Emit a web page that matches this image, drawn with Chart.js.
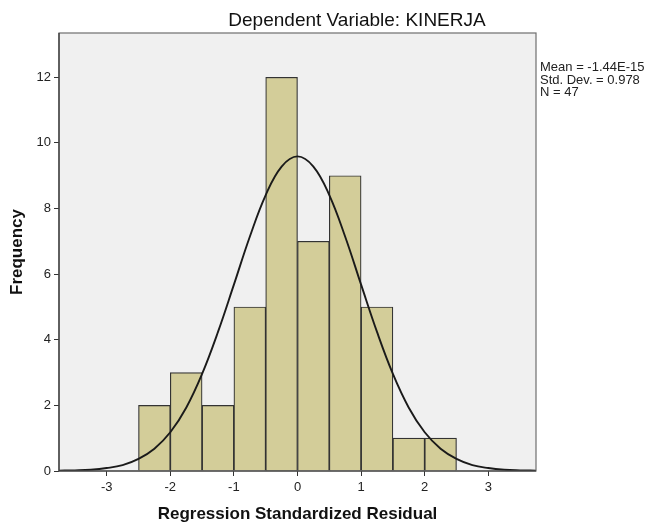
<!doctype html>
<html lang="en">
<head>
  <meta charset="utf-8">
  <title>Dependent Variable: KINERJA</title>
  <style>
    html, body { margin: 0; padding: 0; background: #fff; }
    #wrap { width: 647px; height: 525px; }
  </style>
</head>
<body>
  <div id="wrap"><canvas id="hist" width="647" height="525"></canvas></div>

  <script src="https://cdn.jsdelivr.net/npm/chart.js"></script>
  <script>
    // histogram bins (centres) and counts
    const binCenters = [-2.25, -1.75, -1.25, -0.75, -0.25, 0.25, 0.75, 1.25, 1.75, 2.25];
    const counts = [2, 3, 2, 5, 12, 7, 9, 5, 1, 1];

    // normal curve
    const curveX = [-3.75, -3.5, -3.25, -3, -2.75, -2.5, -2.25, -2, -1.75, -1.5, -1.25, -1, -0.75, -0.5, -0.25,
      0, 0.25, 0.5, 0.75, 1, 1.25, 1.5, 1.75, 2, 2.25, 2.5, 2.75, 3, 3.25, 3.5, 3.75];
    const curveY = [0.01, 0.02, 0.04, 0.09, 0.18, 0.37, 0.68, 1.18, 1.93, 2.96, 4.24, 5.68, 7.14, 8.41, 9.28,
      9.59, 9.28, 8.41, 7.14, 5.68, 4.24, 2.96, 1.93, 1.18, 0.68, 0.37, 0.18, 0.09, 0.04, 0.02, 0.01];

    const xTicks = [-3, -2, -1, 0, 1, 2, 3];
    const yTicks = [0, 2, 4, 6, 8, 10, 12];

    const titleText = 'Dependent Variable: KINERJA';
    const statsLines = ['Mean = -1.44E-15', 'Std. Dev. = 0.978', 'N = 47'];

    const fontFam = '"Liberation Sans", Arial, sans-serif';

    const frame = {
      id: 'frame',
      beforeDraw(chart) {
        const { ctx, chartArea: a } = chart;
        ctx.save();
        ctx.fillStyle = '#f0f0f0';
        ctx.fillRect(a.left, a.top, a.right - a.left, a.bottom - a.top);
        ctx.restore();
      },
      afterDraw(chart) {
        const { ctx, chartArea: a } = chart;
        ctx.save();
        ctx.strokeStyle = '#6e6e6e';
        ctx.lineWidth = 1.2;
        ctx.strokeRect(a.left, a.top, a.right - a.left, a.bottom - a.top);
        ctx.strokeStyle = '#333';
        ctx.beginPath();
        ctx.moveTo(a.left, a.top);
        ctx.lineTo(a.left, a.bottom);
        ctx.lineTo(a.right, a.bottom);
        ctx.stroke();

        ctx.fillStyle = '#111';
        ctx.font = '19px ' + fontFam;
        ctx.textAlign = 'center';
        ctx.textBaseline = 'alphabetic';
        ctx.fillText(titleText, 357, 26);

        ctx.font = '13px ' + fontFam;
        ctx.textAlign = 'left';
        ctx.fillStyle = '#222';
        statsLines.forEach((s, i) => ctx.fillText(s, 540, 71 + i * 12.5));
        ctx.restore();
      }
    };

    new Chart(document.getElementById('hist'), {
      data: {
        datasets: [
          {
            type: 'line',
            data: curveX.map((x, i) => ({ x: x, y: curveY[i] })),
            borderColor: '#1a1a1a',
            borderWidth: 1.9,
            pointRadius: 0,
            tension: 0.4,
            fill: false,
            order: 0
          },
          {
            type: 'bar',
            data: binCenters.map((x, i) => ({ x: x, y: counts[i] })),
            backgroundColor: 'rgb(211, 205, 153)',
            borderColor: '#333',
            borderWidth: 1.2,
            barPercentage: 1,
            categoryPercentage: 1,
            order: 1
          }
        ]
      },
      options: {
        responsive: false,
        animation: false,
        layout: { padding: { top: 33, right: 111, left: 0, bottom: 0 } },
        scales: {
          x: {
            type: 'linear',
            min: -3.75,
            max: 3.75,
            offset: false,
            afterBuildTicks: s => { s.ticks = xTicks.map(v => ({ value: v })); },
            afterFit: s => { s.height = 54; },
            grid: { drawOnChartArea: false, offset: false, tickLength: 5, color: '#333' },
            border: { display: false },
            ticks: { color: '#222', font: { family: fontFam, size: 13 }, padding: 4, maxRotation: 0 },
            title: {
              display: true,
              text: 'Regression Standardized Residual',
              color: '#111',
              font: { family: fontFam, size: 17, weight: 'bold' },
              padding: { bottom: 0 }
            }
          },
          y: {
            type: 'linear',
            min: 0,
            max: 13.35,
            afterBuildTicks: s => { s.ticks = yTicks.map(v => ({ value: v })); },
            afterFit: s => { s.width = 59; },
            grid: { drawOnChartArea: false, tickLength: 5, color: '#333' },
            border: { display: false },
            ticks: { color: '#222', font: { family: fontFam, size: 13 }, padding: 3 },
            title: {
              display: true,
              text: 'Frequency',
              color: '#111',
              font: { family: fontFam, size: 17, weight: 'bold' },
              padding: { top: 7 }
            }
          }
        },
        plugins: {
          legend: { display: false },
          tooltip: { enabled: false }
        }
      },
      plugins: [frame]
    });
  </script>
</body>
</html>
